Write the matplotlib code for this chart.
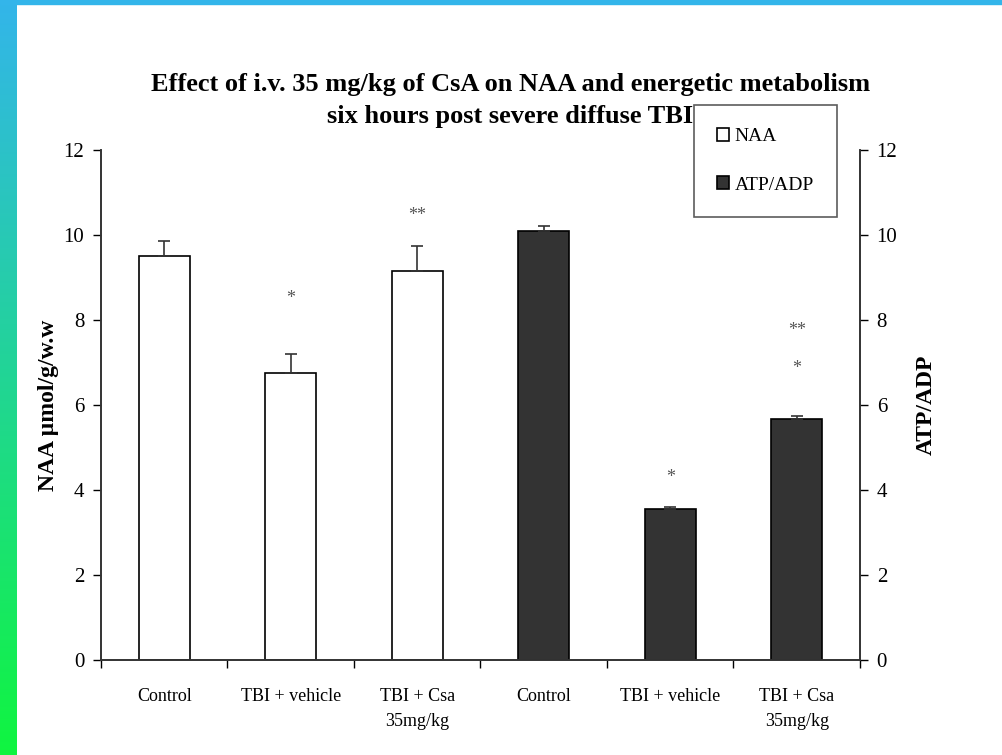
import numpy as np
import matplotlib.pyplot as plt

plt.rcParams['font.family'] = ['Liberation Serif', 'DejaVu Serif']

# data
groups = ["Control", "TBI + vehicle", "TBI + Csa\n35mg/kg"]
naa_mean = [9.5, 6.75, 9.15]
naa_err = [0.35, 0.45, 0.6]
atp_mean = [10.1, 3.55, 5.67]
atp_err = [0.12, 0.06, 0.07]
naa_marks = ["*", "**"]          # over TBI + vehicle, TBI + Csa
naa_mark_y = [8.5, 10.45]
atp_marks = [["*"], ["*", "**"]]  # over TBI + vehicle, TBI + Csa
atp_mark_y = [[4.3], [6.87, 7.76]]

fig = plt.figure(figsize=(10.03, 7.55), dpi=100)

# coloured border strips like the slide background
bg = fig.add_axes([0, 0, 1, 1], zorder=-10)
bg.set_axis_off()
grad = np.linspace(0, 1, 256).reshape(-1, 1)
top_c = np.array([0x33, 0xb5, 0xea]) / 255
bot_c = np.array([0x10, 0xf5, 0x40]) / 255
img = top_c * (1 - grad[..., None]) + bot_c * grad[..., None]
bg.imshow(img, extent=[0, 17 / 1003, 0, 1], aspect='auto', transform=bg.transAxes)
bg.add_patch(plt.Rectangle((0, 1 - 4 / 755), 1, 4 / 755, color='#33b5ea', transform=bg.transAxes))
bg.set_xlim(0, 1)
bg.set_ylim(0, 1)

ax = fig.add_axes([101 / 1003, 95 / 755, 759 / 1003, 510 / 755])
ax2 = ax.twinx()

x = np.arange(6)
w = 0.4
ekw = dict(ecolor='#333333', elinewidth=1.2, capsize=4.5, capthick=1.2)
ax.bar(x[:3], naa_mean, w, yerr=[[0] * 3, naa_err], color='white', edgecolor='black', linewidth=1.2,
       error_kw=ekw, label='NAA')
ax.bar(x[3:], atp_mean, w, yerr=[[0] * 3, atp_err], color='#333333', edgecolor='black', linewidth=1.2,
       error_kw=ekw, label='ATP/ADP')

for xi, m, yy in zip(x[1:3], naa_marks, naa_mark_y):
    ax.text(xi, yy, m, ha='center', va='center', fontsize=13, color='#555555')
for xi, ms, ys in zip(x[4:6], atp_marks, atp_mark_y):
    for m, yy in zip(ms, ys):
        ax.text(xi, yy, m, ha='center', va='center', fontsize=13, color='#555555')

ax.set_xlim(-0.5, 5.5)
ax.set_ylim(0, 12)
ax2.set_ylim(0, 12)
ax.set_yticks(range(0, 13, 2))
ax2.set_yticks(range(0, 13, 2))
ax.set_xticks(x)
ax.set_xticklabels(groups * 2, fontsize=13, linespacing=1.6)
ax.set_xticks(np.arange(-0.5, 6, 1), minor=True)
ax.tick_params(axis='x', which='major', length=0, pad=20)
ax.tick_params(axis='x', which='minor', length=6, direction='out', width=1)
ax.tick_params(axis='y', labelsize=15, length=6, width=1, pad=6)
ax2.tick_params(axis='y', labelsize=15, length=6, width=1, pad=6)

for a in (ax, ax2):
    a.spines['top'].set_visible(False)
    for s in ('left', 'right', 'bottom'):
        a.spines[s].set_color('#333333')
        a.spines[s].set_linewidth(1.2)

ax.set_ylabel("NAA µmol/g/w.w", fontsize=17, fontweight='bold', labelpad=3)
ax2.set_ylabel("ATP/ADP", fontsize=17, fontweight='bold', labelpad=13)

fig.text(0.509, 0.867, "Effect of i.v. 35 mg/kg of CsA on NAA and energetic metabolism\nsix hours post severe diffuse TBI",
         ha='center', va='center', fontsize=19, fontweight='bold', linespacing=1.5)

h1, l1 = ax.get_legend_handles_labels()
leg = ax.legend(h1, l1, loc='upper left', bbox_to_anchor=(694 / 1003, 1 - 105 / 755), bbox_transform=fig.transFigure,
                fontsize=14, frameon=True, fancybox=False, edgecolor='#333333', handlelength=0.6, handleheight=0.6,
                handletextpad=0.3, labelspacing=1.6, borderpad=1.2, borderaxespad=0)
leg.get_frame().set_linewidth(1.2)

fig.savefig("out.png", dpi=100)
